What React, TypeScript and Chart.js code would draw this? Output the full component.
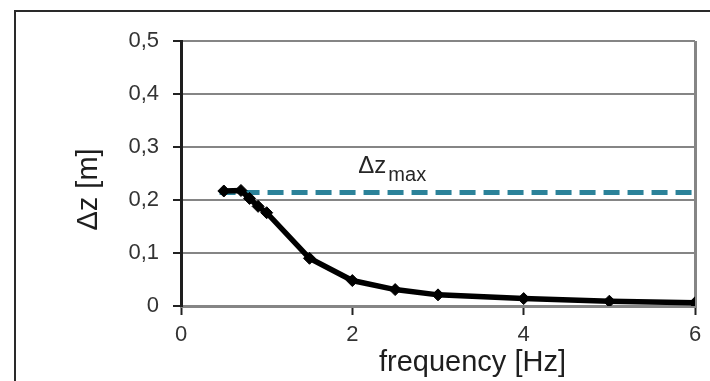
import { useEffect, useRef } from 'react';
import { Chart, registerables } from 'chart.js';

Chart.register(...registerables);

const frequency = [0.5, 0.7, 0.8, 0.9, 1.0, 1.5, 2, 2.5, 3, 4, 5, 6];
const deltaZ = [0.217, 0.218, 0.203, 0.188, 0.176, 0.09, 0.048, 0.031, 0.021, 0.014, 0.009, 0.006];
const dzMaxFreq = [0.45, 6];
const dzMaxValue = [0.214, 0.214];
const xTickValues = [0, 2, 4, 6];
const yTickValues = [0, 0.1, 0.2, 0.3, 0.4, 0.5];
const xTitle = 'frequency [Hz]';
const yTitle = 'Δz [m]';
const labelMain = 'Δz';
const labelSub = 'max';

const FONT = '"Liberation Sans", Arial, sans-serif';

const textPlugin = {
  id: 'textPlugin',
  beforeDraw(chart: any) {
    const ctx = chart.ctx;
    ctx.save();
    ctx.strokeStyle = '#2a2a2a';
    ctx.lineWidth = 2;
    ctx.beginPath();
    ctx.moveTo(15, 400);
    ctx.lineTo(15, 11);
    ctx.lineTo(720, 11);
    ctx.stroke();
    ctx.restore();
  },
  afterDraw(chart: any) {
    const ctx = chart.ctx;
    const xs = chart.scales.x;
    const ys = chart.scales.y;
    ctx.save();
    ctx.fillStyle = '#1e1e1e';
    // x title
    ctx.font = `29px ${FONT}`;
    ctx.textAlign = 'center';
    ctx.textBaseline = 'alphabetic';
    ctx.fillText(xTitle, 472.5, 371);
    // y title
    ctx.save();
    ctx.translate(97, 189.5);
    ctx.rotate(-Math.PI / 2);
    ctx.fillText(yTitle, 0, 0);
    ctx.restore();
    // delta z max label
    const lx = xs.getPixelForValue(2.07);
    const ly = ys.getPixelForValue(0.251);
    ctx.textAlign = 'left';
    ctx.fillStyle = '#262626';
    ctx.font = `24px ${FONT}`;
    ctx.fillText(labelMain, lx, ly);
    const w = ctx.measureText(labelMain).width;
    ctx.font = `20px ${FONT}`;
    ctx.fillText(labelSub, lx + w + 2, ly + 8);
    ctx.restore();
  },
};

export default function App() {
  const ref = useRef<HTMLCanvasElement | null>(null);
  useEffect(() => {
    if (!ref.current) return;
    const chart = new Chart(ref.current, {
      type: 'line',
      data: {
        datasets: [
          {
            label: 'Δz',
            data: frequency.map((f, i) => ({ x: f, y: deltaZ[i] })),
            borderColor: '#000',
            backgroundColor: '#000',
            borderWidth: 5.5,
            pointStyle: 'rectRot',
            pointRadius: 6,
            pointBackgroundColor: '#000',
            pointBorderColor: '#000',
            pointBorderWidth: 1,
            tension: 0,
          },
          {
            label: 'Δz max',
            data: dzMaxFreq.map((f, i) => ({ x: f, y: dzMaxValue[i] })),
            borderColor: '#2b8299',
            borderWidth: 5,
            borderDash: [16, 8],
            pointRadius: 0,
            tension: 0,
          },
        ],
      },
      options: {
        responsive: false,
        animation: false,
        layout: { padding: { left: 0, top: 41, right: 15, bottom: 0 } },
        plugins: { legend: { display: false }, tooltip: { enabled: false } },
        scales: {
          x: {
            type: 'linear',
            min: 0,
            max: 6,
            afterBuildTicks: (s: any) => {
              s.ticks = xTickValues.map((v) => ({ value: v }));
            },
            afterFit: (s: any) => {
              s.height = 75;
            },
            ticks: {
              font: { family: FONT, size: 22 },
              color: '#333',
              padding: 7,
              maxRotation: 0,
              callback: (v: any) => String(v),
            },
            grid: {
              drawOnChartArea: true,
              color: (c: any) => (c.tick && c.tick.value === 6 ? '#858585' : 'rgba(0,0,0,0)'),
              lineWidth: 3,
              tickLength: 9,
              tickColor: '#222',
              tickWidth: 2,
            },
            border: { color: '#858585', width: 3 },
          },
          y: {
            type: 'linear',
            min: 0,
            max: 0.5,
            afterBuildTicks: (s: any) => {
              s.ticks = yTickValues.map((v) => ({ value: v }));
            },
            afterFit: (s: any) => {
              s.width = 181;
            },
            ticks: {
              font: { family: FONT, size: 22 },
              color: '#333',
              padding: 14,
              callback: (v: any) => (v === 0 ? '0' : String(v).replace('.', ',')),
            },
            grid: {
              color: '#858585',
              lineWidth: 2,
              tickLength: 8,
              tickColor: '#222',
              tickWidth: 2,
            },
            border: { color: '#1e1e1e', width: 3 },
          },
        },
      },
      plugins: [textPlugin],
    });
    return () => chart.destroy();
  }, []);
  return (
    <div style={{ position: 'fixed', left: 0, top: 0, width: 710, height: 381, background: '#fff' }}>
      <canvas ref={ref} width={710} height={381} style={{ display: 'block' }} />
    </div>
  );
}
